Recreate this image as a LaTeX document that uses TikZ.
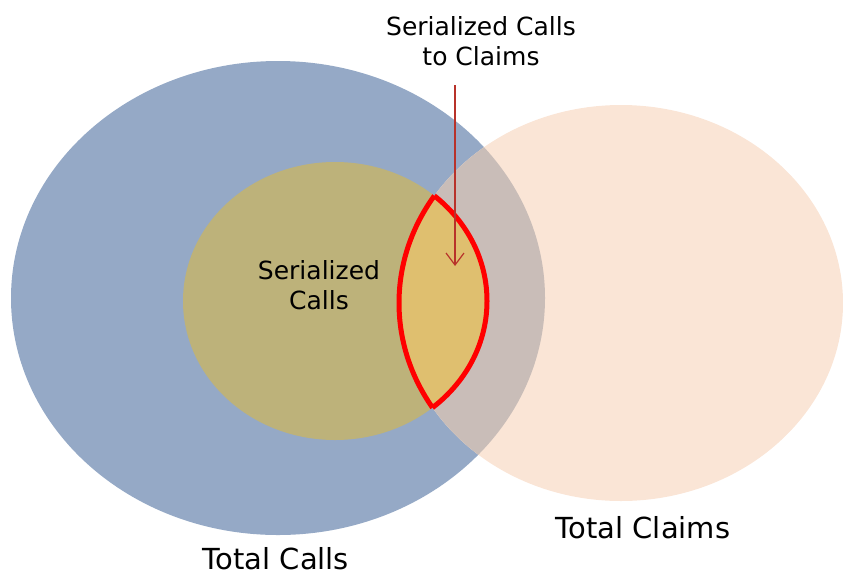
\documentclass[tikz,border=0pt]{standalone}
\usepackage{fontspec}
\setmainfont{DejaVu Sans}
\usetikzlibrary{arrows.meta}
\definecolor{callsblue}{HTML}{95A9C6}
\definecolor{claimpeach}{HTML}{FAE5D6}
\definecolor{overlapgrey}{HTML}{C9BDB8}
\definecolor{serolive}{HTML}{BDB27A}
\definecolor{lensgold}{HTML}{DFBF6F}
\definecolor{arrowred}{HTML}{B8322A}
\tikzset{
  lbl/.style={font=\fontsize{25}{29.5}\selectfont, align=center, inner sep=0pt, anchor=base},
  biglbl/.style={font=\fontsize{29}{34}\selectfont, align=center, inner sep=0pt, anchor=base},
  lensline/.style={draw=red, line width=5pt},
  pointer/.style={draw=arrowred, line width=1.2pt, -{Straight Barb[length=12pt,width=18pt,line width=1.2pt]}}
}
\begin{document}
\begin{tikzpicture}[x=1pt,y=-1pt]
\useasboundingbox (0,0) rectangle (843,574);
% Total Calls
\fill[callsblue] (278,298) ellipse [x radius=267, y radius=237];
% Total Claims
\fill[claimpeach] (621,303) ellipse [x radius=222, y radius=198];
\begin{scope}
  \clip (278,298) ellipse [x radius=267, y radius=237];
  \fill[overlapgrey] (621,303) ellipse [x radius=222, y radius=198];
\end{scope}
% Serialized Calls
\fill[serolive] (335,301) ellipse [x radius=152, y radius=139];
% lens
\begin{scope}
  \clip (335,301) ellipse [x radius=152, y radius=139];
  \fill[lensgold] (621,303) ellipse [x radius=222, y radius=198];
  \draw[lensline] (621,303) ellipse [x radius=222, y radius=198];
\end{scope}
\begin{scope}
  \clip (621,303) ellipse [x radius=222, y radius=198];
  \draw[lensline] (335,301) ellipse [x radius=152, y radius=139];
\end{scope}
% labels
\node[lbl] (sctc) at (481,65) {Serialized Calls\\to Claims};
\node[lbl] (sc) at (319,309) {Serialized\\Calls};
\node[biglbl] (tcalls) at (276,569) {Total Calls};
\node[biglbl] (tclaims) at (643,538) {Total Claims};
% pointer
\coordinate (ptrS) at (455,85);
\coordinate (ptrE) at (455,266);
\draw[pointer] (ptrS) -- (ptrE);
\end{tikzpicture}
\end{document}
